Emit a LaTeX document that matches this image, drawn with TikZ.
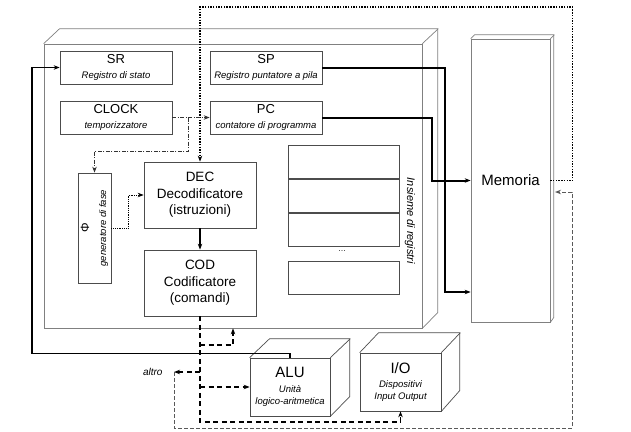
\documentclass[tikz,border=0pt]{standalone}
\usepackage{fontspec}
\setmainfont{Liberation Sans}
\usetikzlibrary{positioning,arrows.meta}

\newcommand{\subf}{\fontsize{9.5}{11}\selectfont\itshape}

\begin{document}
\begin{tikzpicture}[
  x=1pt, y=-1pt,
  >={Stealth[length=6pt,width=4.5pt]},
  frame/.style={draw=black!50, line width=0.7pt},
  reg/.style={rectangle, draw=black!70, line width=0.7pt, minimum width=112pt, minimum height=33pt, inner sep=1pt, align=center, font=\fontsize{13}{15}\selectfont},
  unit/.style={rectangle, draw=black!70, line width=0.7pt, minimum width=112pt, minimum height=66pt, align=center, font=\fontsize{13.5}{16.5}\selectfont},
  cell/.style={rectangle, draw=black!70, line width=0.7pt, minimum width=111pt, minimum height=33pt},
  block/.style={rectangle, draw=black!70, line width=0.7pt, align=center, inner sep=1pt},
  bus/.style={->, line width=2pt},
  memctl/.style={->, line width=1.6pt, dash pattern=on 1.4pt off 1.3pt},
  clk/.style={->, line width=0.8pt, black!80, dash pattern=on 4pt off 1.5pt on 1pt off 1.5pt},
  sig/.style={->, line width=0.8pt, dash pattern=on 0.9pt off 0.9pt},
  cmd/.style={->, line width=1.5pt, dash pattern=on 5pt off 3.5pt},
  back/.style={->, line width=1pt, black!65, dash pattern=on 4pt off 2pt}
]
\useasboundingbox (0,0) rectangle (631,431);

% CPU frame
\node[frame, minimum width=378pt, minimum height=284pt] (CPU) at (233,186) {};
\draw[frame] (CPU.north west) -- ++(16,-15) -- ++(378,0) -- ++(0,284) -- (CPU.south east);
\draw[frame] (CPU.north east) -- ++(16,-15);

% Memory
\node[frame, minimum width=79pt, minimum height=283pt, font=\fontsize{15}{18}\selectfont] (Mem) at (510.5,180.5) {Memoria};
\draw[frame] (Mem.north west) -- ++(4,-4) -- ++(79,0) -- ++(0,283) -- (Mem.south east);
\draw[frame] (Mem.north east) -- ++(4,-4);

% Special registers
\node[reg] (SR) at (116,67.5) {SR\\{\subf Registro di stato}};
\node[reg] (SP) at (266,67.5) {SP\\{\subf Registro puntatore a pila}};
\node[reg] (CLOCK) at (116,117.5) {CLOCK\\{\subf temporizzatore}};
\node[reg] (PC) at (266,117.5) {PC\\{\subf contatore di programma}};

% Phase generator
\node[block, minimum width=33pt, minimum height=110pt] (Phase) at (94.5,228) {};
\node[rotate=90, align=center, font=\subf] (PhaseText) at (Phase.center) {{\upshape\fontsize{12}{14}\selectfont Φ}\\[6pt]generatore di fase};

% Control unit
\node[unit] (DEC) at (200,195) {DEC\\Decodificatore\\(istruzioni)};
\node[unit] (COD) at (200,283) {COD\\Codificatore\\(comandi)};

% Register file
\node[cell] (R1) at (343.5,162) {};
\node[cell, below=0pt of R1] (R2) {};
\node[cell, below=0pt of R2] (R3) {};
\node[font=\fontsize{8}{10}\selectfont] (dots) at (342,251) {\dots};
\node[cell] (Rn) at (343.5,278) {};
\node[rotate=-90, font=\fontsize{11}{13}\selectfont\itshape] (Ins) at (410,221) {Insieme di registri};

% ALU and I/O
\node[block, minimum width=80pt, minimum height=58pt] (ALU) at (290,387) {{\fontsize{15}{18}\selectfont ALU}\\[3pt]{\subf Unità}\\{\subf logico-aritmetica}};
\draw[frame, draw=black!70] (ALU.north west) -- ++(20,-19) -- ++(80,0) -- ++(0,58) -- (ALU.south east);
\draw[frame, draw=black!70] (ALU.north east) -- ++(20,-19);
\node[block, minimum width=81pt, minimum height=58pt] (IO) at (400.5,382) {{\fontsize{15}{18}\selectfont I/O}\\[2pt]{\subf Dispositivi}\\{\subf Input Output}};
\draw[frame, draw=black!70] (IO.north west) -- ++(19,-20) -- ++(81,0) -- ++(0,58) -- (IO.south east);
\draw[frame, draw=black!70] (IO.north east) -- ++(19,-20);

\coordinate (altroTip) at (174,372);
\node[left=8pt of altroTip, font=\fontsize{10}{12}\selectfont\itshape] (altro) {altro};
\coordinate (MemBack) at (555,192);

% Address buses to memory
\draw[bus] (SP.east) -- ++(123,0) |- (Mem.west |- 0,292);
\draw[bus] (PC.east) -- ++(110,0) |- (Mem.west);

% Memory -> decoder
\draw[memctl] (Mem.east) -- ++(22,0) |- (DEC.north |- 0,7) -- (DEC.north);

% Clock lines
\draw[clk] (CLOCK.east) -- (PC.west);
\draw[clk] (CLOCK.east) -- ++(16,0) |- (Phase.north |- 0,151) -- (Phase.north);
\draw[sig] (Phase.east) -- ++(17,0) |- (DEC.west);
\draw[bus] (DEC) -- (COD);

% Status from ALU
\draw[bus, line width=1.6pt] (ALU.north) -- ++(0,-4) -| (SR.west -| 32,0) -- (SR.west);

% Commands
\draw[cmd] (COD.south) |- (IO.south |- 0,422) -- (IO.south);
\draw[cmd] (COD.south |- 0,345) -| (CPU.south -| 233,0);
\draw[cmd] (COD.south |- 0,372) -- (altroTip);
\draw[cmd] (COD.south |- 0,387) -- (ALU.west);
\draw[back] (altroTip) |- (572,428) |- (MemBack);

\end{tikzpicture}
\end{document}
